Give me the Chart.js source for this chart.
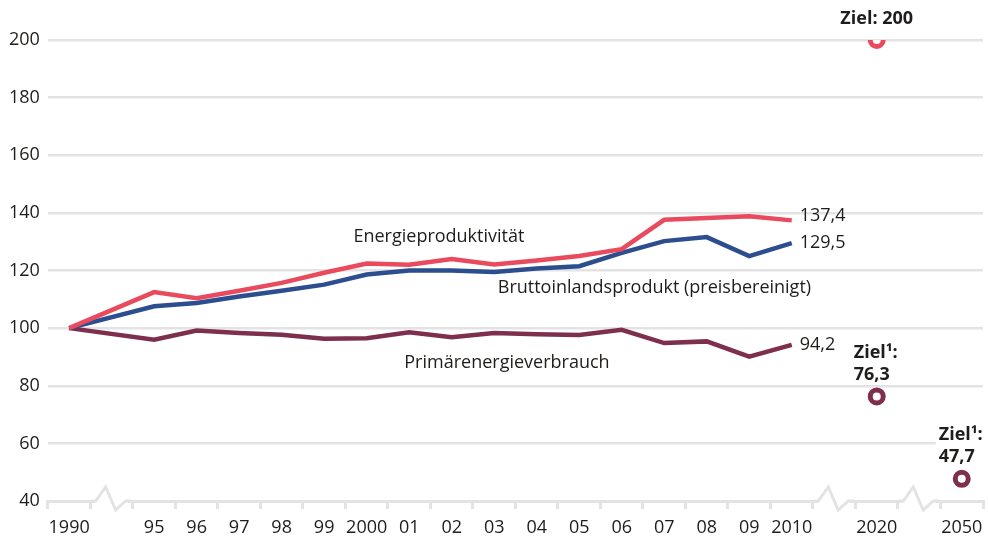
<!DOCTYPE html>
<html>
<head>
<meta charset="utf-8">
<script src="https://cdn.jsdelivr.net/npm/chart.js@4.4.1/dist/chart.umd.min.js"></script>
<style>
  html, body { margin: 0; padding: 0; background: #fff; overflow: hidden; }
  #wrap { width: 988px; height: 537px; position: relative; }
  #energy-chart { display: block; }
</style>
</head>
<body>
<div id="wrap"><canvas id="energy-chart"></canvas></div>
<script>
// categories ('' = axis break)
const categories = ['1990', '', '95', '96', '97', '98', '99', '2000', '01', '02', '03', '04', '05', '06', '07', '08', '09', '2010', '', '2020', '', '2050'];
const yTicks = [40, 60, 80, 100, 120, 140, 160, 180, 200];

// index 1990 = 100
const energieproduktivitaet = [100, null, 112.5, 110.4, 113, 115.7, 119.2, 122.4, 122.0, 124.0, 122.1, 123.5, 125.0, 127.4, 137.6, 138.2, 138.8, 137.4];
const bruttoinlandsprodukt = [100, null, 107.6, 108.7, 111, 113, 115.1, 118.6, 120, 120, 119.5, 120.7, 121.5, 126.1, 130.2, 131.6, 125, 129.5];
const primaerenergieverbrauch = [100, null, 96.0, 99.2, 98.3, 97.7, 96.3, 96.5, 98.6, 96.8, 98.3, 97.9, 97.6, 99.4, 94.8, 95.4, 90.1, 94.2];

// targets
const zielEnergieproduktivitaet = [{ x: '2020', y: 200 }];
const zielPrimaerenergie = [{ x: '2020', y: 76.3 }, { x: '2050', y: 47.7 }];

const RED = '#e94a5d';
const BLUE = '#2d4e8e';
const PURPLE = '#7e2f4d';
const GRID = '#e3e3e3';
const TEXT = '#1f1d1b';
const FONT = '"Open Sans", sans-serif';

Chart.defaults.font.family = FONT;
Chart.defaults.color = TEXT;

function lineSet(label, data, color) {
    return {
        label: label,
        data: data,
        borderColor: color,
        backgroundColor: color,
        borderWidth: 4.5,
        pointRadius: 0,
        tension: 0,
        spanGaps: true
    };
}

function targetSet(label, data, color) {
    return {
        label: label,
        data: data,
        showLine: false,
        borderColor: color,
        pointBorderColor: color,
        pointBackgroundColor: '#fff',
        pointRadius: 6.5,
        pointBorderWidth: 5
    };
}

// free text placed in data coordinates (category index, value)
const seriesLabels = [
    { text: 'Energieproduktivität', x: 8.7, y: 131.8 },
    { text: 'Bruttoinlandsprodukt (preisbereinigt)', x: 13.77, y: 114.1 },
    { text: 'Primärenergieverbrauch', x: 10.3, y: 88 }
];

const textPlugin = {
    id: 'chartTexts',
    afterDraw(chart) {
        const ctx = chart.ctx;
        const xs = chart.scales.x;
        const ys = chart.scales.y;
        ctx.save();

        // axis breaks
        const base = chart.chartArea.bottom;
        categories.forEach(function (c, i) {
            if (c !== '') return;
            const cx = xs.getPixelForValue(i);
            ctx.fillStyle = '#fff';
            ctx.fillRect(cx - 17, base - 3, 33, 6);
            ctx.strokeStyle = GRID;
            ctx.lineWidth = 3;
            ctx.lineJoin = 'miter';
            ctx.beginPath();
            ctx.moveTo(cx - 20, base);
            ctx.lineTo(cx - 16, base);
            ctx.lineTo(cx - 6, base - 14);
            ctx.lineTo(cx + 4, base + 9);
            ctx.lineTo(cx + 14, base);
            ctx.lineTo(cx + 20, base);
            ctx.stroke();
        });

        ctx.fillStyle = TEXT;
        ctx.font = '18px ' + FONT;
        ctx.textBaseline = 'middle';
        ctx.textAlign = 'center';
        seriesLabels.forEach(function (l) {
            ctx.fillText(l.text, xs.getPixelForValue(l.x), ys.getPixelForValue(l.y));
        });

        // end values
        ctx.textAlign = 'left';
        const last = energieproduktivitaet.length - 1;
        const ends = [
            [energieproduktivitaet[last], -4],
            [bruttoinlandsprodukt[last], 0],
            [primaerenergieverbrauch[last], 0]
        ];
        ends.forEach(function (e) {
            const px = xs.getPixelForValue(last) + 8;
            const py = ys.getPixelForValue(e[0]) + e[1];
            ctx.fillText(e[0].toFixed(1).replace('.', ','), px, py);
        });

        // target labels
        ctx.font = 'bold 18px ' + FONT;
        const z = zielEnergieproduktivitaet[0];
        ctx.textAlign = 'center';
        ctx.fillText('Ziel: ' + z.y, xs.getPixelForValue(categories.indexOf(z.x)), ys.getPixelForValue(z.y) - 21);

        ctx.textAlign = 'left';
        zielPrimaerenergie.forEach(function (p) {
            const px = xs.getPixelForValue(categories.indexOf(p.x)) - 23;
            const py = ys.getPixelForValue(p.y);
            const l1 = 'Ziel¹:';
            const l2 = p.y.toFixed(1).replace('.', ',');
            const w = Math.max(ctx.measureText(l1).width, ctx.measureText(l2).width);
            ctx.fillStyle = '#fff';
            ctx.fillRect(px - 3, py - 56, w + 6, 44);
            ctx.fillStyle = TEXT;
            ctx.fillText(l1, px, py - 44);
            ctx.fillText(l2, px, py - 22);
        });
        ctx.restore();
    }
};

new Chart(document.getElementById('energy-chart').getContext('2d'), {
    type: 'line',
    data: {
        labels: categories,
        datasets: [
            lineSet('Energieproduktivität', energieproduktivitaet, RED),
            lineSet('Bruttoinlandsprodukt (preisbereinigt)', bruttoinlandsprodukt, BLUE),
            lineSet('Primärenergieverbrauch', primaerenergieverbrauch, PURPLE),
            targetSet('Ziel Energieproduktivität', zielEnergieproduktivitaet, RED),
            targetSet('Ziel Primärenergieverbrauch', zielPrimaerenergie, PURPLE)
        ]
    },
    options: {
        responsive: true,
        maintainAspectRatio: false,
        animation: false,
        layout: { autoPadding: false, padding: { top: 40, left: 1, right: 5, bottom: 0 } },
        plugins: {
            legend: { display: false },
            tooltip: { enabled: false }
        },
        scales: {
            x: {
                offset: true,
                afterFit: function (scale) {
                    scale.paddingLeft = 0;
                    scale.paddingRight = 0;
                    scale.height = 36;
                },
                border: { display: true, color: GRID, width: 3 },
                grid: {
                    offset: true,
                    drawOnChartArea: false,
                    drawTicks: true,
                    tickLength: 8,
                    color: GRID,
                    lineWidth: 3
                },
                ticks: {
                    autoSkip: false,
                    maxRotation: 0,
                    padding: 10,
                    font: { size: 18, lineHeight: 1 },
                    color: TEXT
                }
            },
            y: {
                min: 40,
                max: 200,
                afterBuildTicks: function (scale) {
                    scale.ticks = yTicks.map(function (v) { return { value: v }; });
                },
                border: { display: false },
                grid: {
                    drawTicks: false,
                    lineWidth: 2.5,
                    color: function (c) { return c.tick && c.tick.value === 40 ? 'rgba(0,0,0,0)' : GRID; }
                },
                ticks: {
                    padding: 8,
                    font: { size: 18 },
                    color: TEXT
                }
            }
        }
    },
    plugins: [textPlugin]
});
</script>
</body>
</html>
